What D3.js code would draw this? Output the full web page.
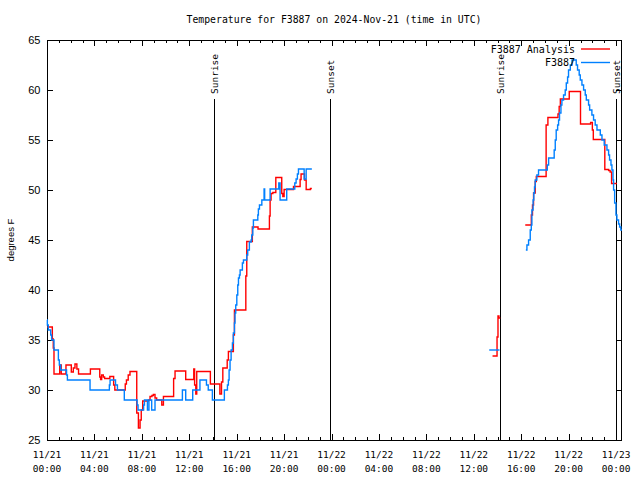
<!DOCTYPE html>
<html><head><meta charset="utf-8">
<script src="https://cdn.jsdelivr.net/npm/d3@7/dist/d3.min.js"></script>
<style>body{margin:0;background:#fff}svg{display:block}</style>
</head><body><svg id="chart" width="640" height="480"></svg>
<script>
// Hours since 2024-11-21 00:00 UTC, value in degrees F
const analysisDay1 = [[0,36.3],[0.45,35.1],[0.53,34.2],[0.59,31.6],[1.07,32.5],[1.2,31.6],[1.6,32.5],[2.05,31.8],[2.22,32.2],[2.36,32.6],[2.52,32.1],[2.66,31.6],[3.66,32.1],[4.45,31.3],[4.52,31.05],[4.61,31.5],[4.75,31.3],[4.86,31.15],[5.3,31.35],[5.62,30.5],[5.72,30.0],[6.6,30.6],[6.7,31.0],[6.85,31.5],[7.0,31.85],[7.57,27.7],[7.71,26.2],[7.85,27.0],[7.95,28.0],[8.07,28.9],[8.55,29.0],[8.69,29.35],[8.85,29.45],[8.97,29.55],[9.11,29.2],[9.25,29.0],[9.68,28.5],[9.82,29.35],[10.68,31.15],[10.8,31.9],[11.7,31.05],[12.38,32.1],[12.45,30.5],[12.55,29.6],[12.63,31.85],[13.78,30.6],[14.58,29.6],[14.72,30.8],[14.83,32.2],[15.2,33.0],[15.3,33.85],[15.72,35.5],[15.81,38.0],[16.77,41.4],[16.85,44.85],[17.32,46.3],[17.8,46.1],[18.76,47.4],[18.82,49.0],[18.9,49.65],[19.05,49.75],[19.3,51.25],[19.8,49.65],[19.89,49.35],[20.0,50.05],[20.79,50.35],[21.35,51.05],[21.43,51.6],[21.72,51.0],[21.86,50.05],[22.22,50.15],[22.34,50.15]];
const analysisDawn = [[37.58,33.4],[37.96,35.3],[38.04,37.4],[38.12,37.2],[38.23,37.2]];
const analysisDay2 = [[40.34,46.5],[40.85,47.5],[40.95,48.5],[41.04,49.7],[41.18,50.85],[41.27,51.35],[42.1,56.5],[42.25,57.25],[43.1,57.6],[43.2,58.35],[43.3,59.1],[44.05,59.85],[45.0,56.6],[45.85,56.75],[46.0,56.0],[46.08,55.05],[47.05,52.05],[47.37,51.95],[47.5,51.8],[47.62,50.65],[48.07,50.65]];

const obsDay1 = [[0,37.0],[0.03,36.5],[0.11,36.0],[0.31,35.5],[0.39,35.0],[0.59,34.0],[0.96,33.0],[1.04,32.5],[1.15,32.0],[1.65,31.5],[1.72,31.0],[3.63,30.0],[5.26,30.5],[5.32,31.0],[5.78,30.5],[5.94,30.0],[6.52,29.0],[7.6,28.5],[7.68,28.0],[8.15,28.5],[8.22,29.0],[8.47,28.0],[8.6,29.0],[8.83,28.0],[9.11,29.0],[11.42,30.0],[11.7,29.0],[12.29,30.0],[12.9,31.0],[13.45,30.5],[13.6,30.0],[13.95,29.0],[14.96,30.0],[15.22,30.5],[15.3,31.0],[15.36,32.0],[15.44,33.0],[15.53,34.0],[15.64,34.7],[15.72,35.7],[15.81,36.7],[15.86,37.7],[15.92,38.5],[16.01,39.5],[16.09,40.5],[16.15,41.2],[16.23,41.5],[16.29,42.0],[16.48,42.7],[16.57,43.0],[16.85,43.5],[16.93,44.0],[17.07,44.8],[17.22,45.0],[17.27,45.5],[17.36,46.2],[17.41,47.0],[17.78,47.5],[17.83,48.1],[17.92,48.5],[18.12,49.0],[18.31,50.1],[18.36,49.0],[18.82,50.1],[19.55,50.7],[19.66,49.0],[20.22,50.1],[20.9,50.7],[21.01,51.1],[21.12,51.6],[21.21,52.1],[21.69,51.1],[21.86,52.1],[22.34,52.1]];
const obsDawn = [[37.3,34.0],[38.17,34.0]];
const obsDay2 = [[40.39,44.0],[40.48,44.5],[40.62,45.0],[40.76,46.0],[40.85,46.5],[40.9,48.0],[41.0,49.0],[41.06,49.7],[41.12,50.3],[41.18,51.0],[41.32,51.5],[41.46,52.0],[42.2,52.5],[42.31,53.2],[42.78,54.0],[42.87,55.0],[42.95,56.0],[43.07,56.5],[43.15,57.0],[43.23,57.7],[43.35,58.5],[43.43,59.0],[43.57,59.5],[43.71,60.0],[43.8,60.7],[43.91,61.3],[43.99,62.0],[44.14,62.5],[44.28,63.0],[44.64,62.5],[44.75,62.0],[44.89,61.5],[44.98,61.0],[45.12,60.5],[45.26,60.0],[45.4,59.5],[45.49,59.0],[45.68,58.5],[45.77,58.0],[45.96,57.5],[46.1,57.0],[46.24,56.5],[46.39,56.0],[46.67,55.5],[46.81,55.0],[47.0,54.5],[47.23,54.0],[47.37,53.5],[47.45,53.0],[47.57,52.5],[47.65,52.0],[47.74,51.0],[47.79,50.0],[47.88,48.7],[47.99,47.5],[48.07,47.0],[48.21,46.6],[48.3,46.3],[48.4,46.0],[48.5,46.0]];

const sunEvents = [["Sunrise",14.05],["Sunset",23.85],["Sunrise",38.25],["Sunset",47.97]];
const xTickHours = [0,4,8,12,16,20,24,28,32,36,40,44,48];
const xTickDates = ["11/21","11/21","11/21","11/21","11/21","11/21","11/22","11/22","11/22","11/22","11/22","11/22","11/23"];
const xTickTimes = ["00:00","04:00","08:00","12:00","16:00","20:00","00:00","04:00","08:00","12:00","16:00","20:00","00:00"];
const yTicks = [25,30,35,40,45,50,55,60,65];
const seriesNames = ["F3887 Analysis","F3887"];
const seriesColors = ["#ff0000","#0080ff"];
const titleText = "Temperature for F3887 on 2024-Nov-21 (time in UTC)";
const yLabel = "degrees F";

const L=47, R=622, T=40, B=440;
const mono = "'DejaVu Sans Mono', monospace";
const sans = "'Liberation Sans', Arial, sans-serif";
const svg = d3.select("#chart");
const x = d3.scaleLinear().domain([0,48.5]).range([L,R]);
const y = d3.scaleLinear().domain([25,65]).range([B,T]);

// Title
svg.append("text").attr("x",334).attr("y",23).attr("text-anchor","middle")
  .attr("font-family",mono).attr("font-size","9.8px").text(titleText);

// Axes (inward ticks, gnuplot style)
const hours = d3.range(0,49,1);
const minor = hours.filter(h=>h%4!==0);
function ax(gen, tr, vals, size){
  const g = svg.append("g").attr("transform",tr).call(gen.tickValues(vals).tickSize(size).tickFormat(""));
  g.select(".domain").remove();
  g.selectAll("line").attr("stroke","#000").attr("shape-rendering","crispEdges");
  return g;
}
ax(d3.axisBottom(x), `translate(0,${B})`, minor, -3);
ax(d3.axisBottom(x), `translate(0,${B})`, xTickHours, -6);
ax(d3.axisTop(x), `translate(0,${T})`, minor, -3);
ax(d3.axisTop(x), `translate(0,${T})`, xTickHours, -6);
ax(d3.axisLeft(y), `translate(${L},0)`, yTicks, -6);
ax(d3.axisRight(y), `translate(${R},0)`, yTicks, -6);

// X labels
const xl = svg.append("g").attr("font-family",mono).attr("font-size","9.5px").attr("text-anchor","middle");
xTickHours.forEach((h,i)=>{
  xl.append("text").attr("x",x(h)).attr("y",458).text(xTickDates[i]);
  xl.append("text").attr("x",x(h)).attr("y",472).text(xTickTimes[i]);
});
// Y labels
const yl = svg.append("g").attr("font-family",sans).attr("font-size","11px").attr("text-anchor","end");
yTicks.forEach(v=>{
  yl.append("text").attr("x",40.5).attr("y",y(v)).attr("dy","0.35em").text(v);
});
svg.append("text").attr("transform","translate(14,240) rotate(-90)").attr("text-anchor","middle")
  .attr("font-family",sans).attr("font-size","9.5px").text(yLabel);

// Frame
svg.append("rect").attr("x",L+0.5).attr("y",T+0.5).attr("width",R-L-1).attr("height",B-T)
  .attr("fill","none").attr("stroke","#000").attr("shape-rendering","crispEdges");

// Sunrise / sunset
sunEvents.forEach(([lab,h])=>{
  const xx = Math.round(x(h))+0.5;
  svg.append("line").attr("x1",xx).attr("x2",xx).attr("y1",99).attr("y2",B)
    .attr("stroke","#000").attr("stroke-width",1);
  svg.append("text").attr("transform",`translate(${xx},94) rotate(-90)`).attr("dy","0.35em")
    .attr("font-family",mono).attr("font-size","9.5px").attr("text-anchor","start").text(lab);
});

// Series
const line = d3.line().x(d=>x(d[0])).y(d=>y(d[1])).curve(d3.curveStepAfter);
const groups = [[analysisDay1,analysisDawn,analysisDay2],[obsDay1,obsDawn,obsDay2]];
groups.forEach((segs,i)=>{
  segs.forEach(s=>{
    svg.append("path").datum(s).attr("d",line).attr("fill","none")
      .attr("stroke",seriesColors[i]).attr("stroke-width",1.4);
  });
});

// Legend
seriesNames.forEach((n,i)=>{
  const yy = 49 + i*13.5;
  svg.append("text").attr("x",575).attr("y",yy).attr("dy","0.35em").attr("text-anchor","end")
    .attr("font-family",mono).attr("font-size","10px").text(n);
  svg.append("line").attr("x1",581).attr("x2",610).attr("y1",yy).attr("y2",yy)
    .attr("stroke",seriesColors[i]).attr("stroke-width",1.4);
});
</script></body></html>
